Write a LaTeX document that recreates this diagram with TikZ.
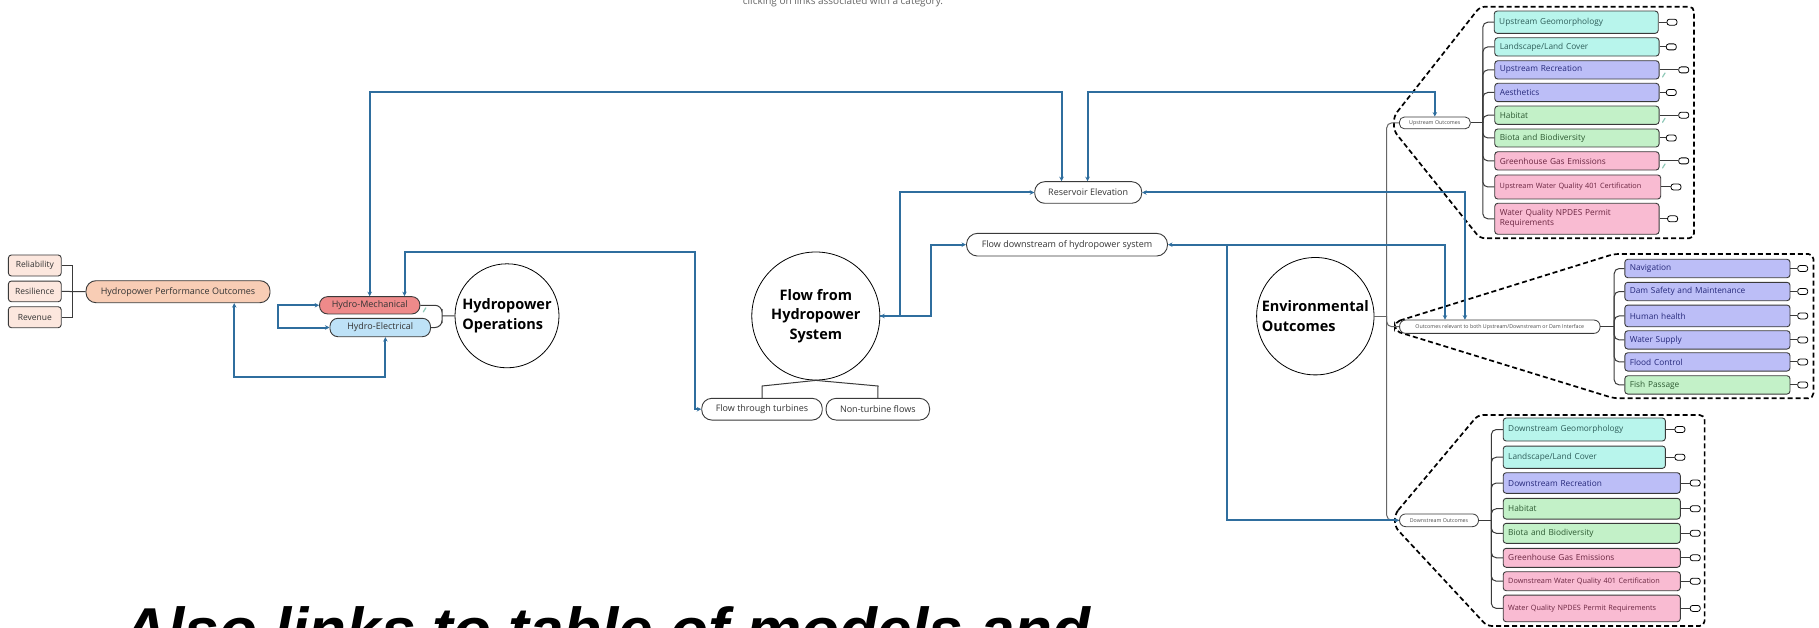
\documentclass[tikz,border=0pt]{standalone}
\usepackage{fontspec}
\setmainfont{Open Sans}
\newfontfamily\arialf{Liberation Sans}
\usetikzlibrary{arrows.meta}
\newcommand{\nohyph}{\hyphenpenalty=10000\relax}
\definecolor{conn}{HTML}{2F6E9E}
\definecolor{peach}{HTML}{F8CDB5}
\definecolor{peachlt}{HTML}{FCE7DE}
\definecolor{hmred}{HTML}{EE8A8A}
\definecolor{heblue}{HTML}{BEE2F7}
\definecolor{cyanf}{HTML}{B8F5EC}
\definecolor{lavf}{HTML}{BCBEF7}
\definecolor{grnf}{HTML}{C3F1C8}
\definecolor{pinkf}{HTML}{F9BBD2}
\definecolor{cyant}{HTML}{2E5E5A}
\definecolor{lavt}{HTML}{25287A}
\definecolor{grnt}{HTML}{2D5A32}
\definecolor{pinkt}{HTML}{6A2540}
\definecolor{bd}{HTML}{3A3A3A}
\definecolor{trg}{HTML}{666666}
\definecolor{iconc}{HTML}{8FC9B8}
\begin{document}
\begin{tikzpicture}[x=1pt,y=-1pt,
  bl/.style={draw=conn, line width=2pt, line join=miter},
  ba/.style={bl, -{Stealth[length=4.5pt,width=4.5pt]}},
  bb/.style={bl, {Stealth[length=4.5pt,width=4.5pt]}-{Stealth[length=4.5pt,width=4.5pt]}},
  tr/.style={draw=bd, line width=1pt},
  trgrey/.style={draw=trg, line width=1pt},
  pill/.style={draw=bd, line width=0.9pt, inner sep=0pt, font=\fontsize{9}{11}\selectfont, text=black!80},
  smallpill/.style={draw=bd, line width=0.8pt, inner sep=0pt, fill=white, font=\fontsize{5.3}{7}\selectfont, text=black!70},
  rbox/.style={draw=bd, line width=0.9pt, fill=peachlt, rounded corners=3pt, inner sep=0pt, minimum width=52.8pt, font=\fontsize{8.5}{10}\selectfont, text=black!80},
  circ/.style={draw=black, line width=0.8pt, circle, inner sep=0pt, font=\bfseries\fontsize{14.5}{19.3}\selectfont},
  lb/.style={draw=bd, line width=0.9pt, rounded corners=3pt, inner xsep=5pt, inner ysep=0pt, text width=#1, align=left, font=\nohyph\fontsize{8.3}{10}\selectfont},
  sm/.style={font=\nohyph\fontsize{7.3}{9.5}\selectfont},
  cy/.style={fill=cyanf, text=cyant},
  lv/.style={fill=lavf, text=lavt},
  gr/.style={fill=grnf, text=grnt},
  pk/.style={fill=pinkf, text=pinkt},
  tag/.style={draw=black, line width=0.8pt, rounded corners=2.5pt, minimum width=10pt, minimum height=6pt, inner sep=0pt, fill=white},
  dsh/.style={draw=black, line width=1.7pt, dash pattern=on 5pt off 3pt, rounded corners=5pt},
  icon/.style={draw=iconc, line width=1.2pt, line cap=round}
]
\useasboundingbox (0,0) rectangle (1819,628);
\fill[white] (0,0) rectangle (1819,628);

% top note and bottom caption
\node[anchor=base, font=\fontsize{10}{12}\selectfont, text=black!60, inner sep=0pt] (note) at (843,4.5) {clicking on links associated with a category.};
\node[anchor=base west, font=\arialf\bfseries\itshape\fontsize{62}{70}\selectfont, inner sep=0pt] (cap) at (122.5,651.5) {Also links to table of models and};

% dashed groups
\draw[dsh] (1394,116) -- (1480,6.7) -- (1694,6.7) -- (1694,238.3) -- (1480,238.3) -- (1394,131) -- cycle;
\draw[dsh] (1395,322) -- (1614,254) -- (1813.4,254) -- (1813.4,398.3) -- (1614,398.3) -- (1395,331) -- cycle;
\draw[dsh] (1395,514) -- (1478,415) -- (1704.6,415) -- (1704.6,626) -- (1487,626) -- (1395,527) -- cycle;

% left nodes
\node[rbox, minimum height=21pt] (rel) at (34.8,265.5) {Reliability};
\node[rbox, minimum height=20.7pt] (res) at (34.8,291.4) {Resilience};
\node[rbox, minimum height=21pt] (rev) at (34.8,317.2) {Revenue};
\node[pill, fill=peach, rounded corners=10pt, minimum width=184pt, minimum height=22pt] (hpo) at (178,291.7) {Hydropower Performance Outcomes};
\node[pill, fill=hmred, rounded corners=8pt, minimum width=100.3pt, minimum height=17.3pt] (hm) at (369.7,305.3) {Hydro-Mechanical};
\node[pill, fill=heblue, rounded corners=8pt, minimum width=100.5pt, minimum height=18.4pt] (he) at (380.2,327.5) {Hydro-Electrical};
\node[circ, minimum size=104pt, align=left] (ops) at (507,315.8) {Hydropower\\Operations};
\node[circ, minimum size=128pt, align=center] (flow) at (815.8,316) {Flow from\\Hydropower\\System};
\node[pill, fill=white, rounded corners=10pt, minimum width=120.5pt, minimum height=21.7pt] (ftt) at (762,409.2) {Flow through turbines};
\node[pill, fill=white, rounded corners=10pt, minimum width=103.5pt, minimum height=21.7pt] (ntf) at (877.8,409.2) {Non-turbine flows};
\node[pill, fill=white, rounded corners=10pt, minimum width=107pt, minimum height=21.6pt] (resel) at (1088.2,192.5) {Reservoir Elevation};
\node[pill, fill=white, rounded corners=11pt, minimum width=201pt, minimum height=22.7pt] (fd) at (1067,244.7) {Flow downstream of hydropower system};
\node[circ, minimum size=117.4pt, align=left] (eo) at (1315.3,316.2) {Environmental\\Outcomes};
\node[smallpill, rounded corners=5pt, minimum width=70.8pt, minimum height=11.8pt] (uo) at (1434.8,122.9) {Upstream Outcomes};
\node[smallpill, rounded corners=6pt, minimum width=200.4pt, minimum height=13.3pt] (orel) at (1499.8,326.7) {Outcomes relevant to both Upstream/Downstream or Dam Interface};
\node[smallpill, rounded corners=6pt, minimum width=78.9pt, minimum height=12.7pt] (do) at (1439,520.3) {Downstream Outcomes};

% upstream list
\node[lb=154pt, cy, minimum height=22.3pt] (u1) at (1576.2,22.2) {Upstream Geomorphology};
\node[lb=154.3pt, cy, minimum height=18.3pt] (u2) at (1576.9,46.9) {Landscape/Land Cover};
\node[lb=154.3pt, lv, minimum height=18.3pt] (u3) at (1576.9,69.9) {Upstream Recreation};
\node[lb=154.3pt, lv, minimum height=18.4pt] (u4) at (1576.9,92.5) {Aesthetics};
\node[lb=154.3pt, gr, minimum height=18.3pt] (u5) at (1576.9,115.2) {Habitat};
\node[lb=154.3pt, gr, minimum height=18pt] (u6) at (1576.9,138) {Biota and Biodiversity};
\node[lb=154.3pt, pk, minimum height=18.3pt] (u7) at (1576.9,160.9) {Greenhouse Gas Emissions};
\node[lb=156pt, pk, sm, minimum height=24pt] (u8) at (1577.7,187) {Upstream Water Quality 401 Certification};
\node[lb=154.3pt, pk, minimum height=31pt] (u9) at (1576.9,218.8) {Water Quality NPDES Permit\\Requirements};

% middle list
\node[lb=155.2pt, lv, minimum height=18.4pt] (m1) at (1707.4,268.5) {Navigation};
\node[lb=155.2pt, lv, minimum height=18.4pt] (m2) at (1707.4,291.5) {Dam Safety and Maintenance};
\node[lb=155.2pt, lv, minimum height=21.7pt] (m3) at (1707.4,315.9) {Human health};
\node[lb=155.2pt, lv, minimum height=18.3pt] (m4) at (1707.4,339.9) {Water Supply};
\node[lb=155.2pt, lv, minimum height=18.3pt] (m5) at (1707.4,361.9) {Flood Control};
\node[lb=155.2pt, gr, minimum height=18.3pt] (m6) at (1707.4,384.9) {Fish Passage};

% downstream list
\node[lb=152.2pt, cy, minimum height=23pt] (d1) at (1584.3,429.5) {Downstream Geomorphology};
\node[lb=152.2pt, cy, minimum height=22.3pt] (d2) at (1584.3,457.2) {Landscape/Land Cover};
\node[lb=167.1pt, lv, minimum height=20.6pt] (d3) at (1591.75,483) {Downstream Recreation};
\node[lb=167.1pt, gr, minimum height=20.7pt] (d4) at (1591.75,508.7) {Habitat};
\node[lb=167.1pt, gr, minimum height=20pt] (d5) at (1591.75,533.3) {Biota and Biodiversity};
\node[lb=167.1pt, pk, minimum height=19pt] (d6) at (1591.75,557.8) {Greenhouse Gas Emissions};
\node[lb=167.1pt, pk, sm, minimum height=19pt] (d7) at (1591.75,581.2) {Downstream Water Quality 401 Certification};
\node[lb=167.1pt, pk, sm, minimum height=26.7pt] (d8) at (1591.75,608.4) {Water Quality NPDES Permit Requirements};

% tags
\foreach \n/\x in {u1/1672,u2/1671.3,u3/1683.7,u4/1671.3,u5/1683.7,u6/1671.3,u7/1683.7,u8/1676,u9/1672.6,
                   m1/1802.7,m2/1802.7,m3/1802.7,m4/1802.7,m5/1802.7,m6/1802.7,
                   d1/1679.9,d2/1679.9,d3/1695.2,d4/1695.2,d5/1695.2,d6/1695.2,d7/1695.2,d8/1695.2}{
  \node[tag] (t\n) at (\x,0 |- \n.east) {};
  \draw[tr] (\n.east) -- (t\n.west);
}
% attachment icons
\foreach \n in {u3,u5,u7}{
  \draw[icon] ([shift={(3,-2.5)}]\n.south east) -- ++(2.5,-4);
}
\draw[icon] ([shift={(3,-2.5)}]hm.south east) -- ++(2.5,-4);

% trees
\coordinate (jr) at (72.7,291.7);
\draw[tr] (rel.east) -| (jr) |- (rev.east);
\draw[tr] (res.east) -- (hpo.west);
\coordinate (jo) at (442,316);
\draw[tr, rounded corners=7pt] (hm.east) -| (jo) |- (he.east);
\draw[tr] (jo) -- (ops.west);
\coordinate (fl) at (762,386);
\coordinate (fr) at (878,386);
\draw[tr] (flow.south) -- (fl) -- (ftt.north);
\draw[tr] (flow.south) -- (fr) -- (ntf.north);
\coordinate (es) at (1386.7,316.2);
\draw[trgrey] (eo.east) -- (es);
\draw[trgrey, rounded corners=5pt] (es) |- (uo.west);
\draw[trgrey, rounded corners=5pt] (es) |- (orel.west);
\draw[trgrey, rounded corners=5pt] (es) |- (do.west);
\coordinate (us) at (1482.8,122.9);
\draw[tr] (uo.east) -- (us);
\foreach \i in {1,...,9}{ \draw[tr, rounded corners=5pt] (us) |- (u\i.west); }
\coordinate (ms) at (1614.2,326.7);
\draw[tr] (orel.east) -- (ms);
\foreach \i in {1,...,6}{ \draw[tr, rounded corners=5pt] (ms) |- (m\i.west); }
\coordinate (ds) at (1491.3,520.3);
\draw[tr] (do.east) -- (ds);
\foreach \i in {1,...,8}{ \draw[tr, rounded corners=5pt] (ds) |- (d\i.west); }

% blue connectors
\coordinate (t1) at (1061.5,91.7);
\draw[bb] (hm.north) |- (t1) -- (t1 |- resel.north);
\coordinate (t2) at (1087.5,91.7);
\draw[bb] (t2 |- resel.north) -- (t2) -| (uo.north);
\coordinate (k3) at (899.5,192.5);
\draw[bb] (resel.west) -- (k3) |- (flow.east);
\coordinate (k4) at (930.8,316);
\draw[ba] (flow.east) -- (k4) |- (fd.west);
\coordinate (k5) at (1445,244.7);
\draw[bb] (fd.east) -- (k5) -- (k5 |- orel.north);
\coordinate (k6) at (1227.3,244.7);
\draw[ba] (k6) |- (do.west);
\coordinate (k7) at (1464.9,192.5);
\draw[bb] (resel.east) -- (k7) -- (k7 |- orel.north);
\coordinate (k8) at (277.5,305.3);
\draw[bb] (hm.west) -- (k8) |- (he.west);
\coordinate (k9a) at (234.2,376.7);
\coordinate (k9b) at (385.4,376.7);
\draw[bb] (k9a |- hpo.south) -- (k9a) -- (k9b) -- (k9b |- he.south);
\coordinate (k10a) at (404.5,252);
\coordinate (k10b) at (695,252);
\draw[bb] (k10a |- hm.north) -- (k10a) -- (k10b) |- (ftt.west);
\end{tikzpicture}
\end{document}
